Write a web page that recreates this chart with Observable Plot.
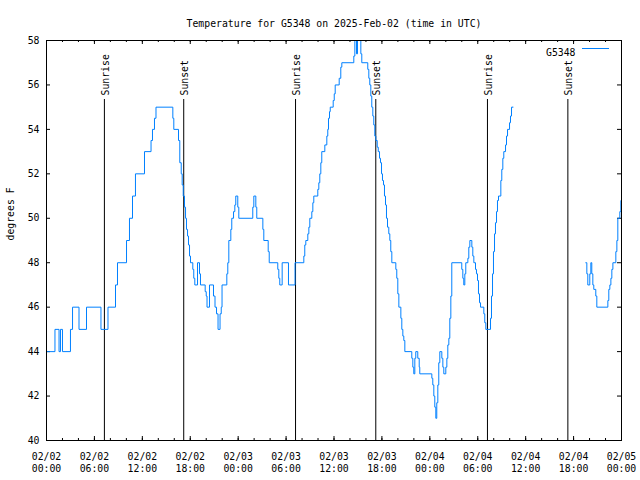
<!DOCTYPE html>
<html><head><meta charset="utf-8">
<script src="https://cdn.jsdelivr.net/npm/d3@7"></script>
<script src="https://cdn.jsdelivr.net/npm/@observablehq/plot@0.6"></script>
<style>body{margin:0;background:#fff} svg{display:block}</style>
</head><body><div id="chart"></div>
<script>
const titleText = "Temperature for G5348 on 2025-Feb-02 (time in UTC)";
const seriesName = "G5348";
const yLabelText = "degrees F";
const startTime = "2025-02-02T00:00:00Z";
const endTime = "2025-02-05T00:00:00Z";
// hours since 2025-02-02 00:00 UTC
const hours = [0,1.06,1.57,1.75,2.0,3.0,3.26,4.07,5.01,6.82,7.70,8.64,8.89,10.02,10.39,10.77,11.14,12.27,13.09,13.27,13.52,13.71,15.82,15.94,16.53,16.69,16.87,16.99,17.12,17.28,17.41,17.53,17.66,17.78,17.91,18.03,18.32,18.44,18.57,18.91,19.16,19.28,19.87,20.00,20.10,20.41,20.91,21.10,21.29,21.48,21.73,21.88,21.98,22.58,22.70,22.83,23.08,23.20,23.42,23.58,23.70,23.95,24.08,25.83,25.96,26.21,26.33,27.09,27.21,27.76,27.89,28.96,29.09,29.21,29.51,30.30,31.12,32.22,32.34,32.47,32.72,32.85,32.97,33.22,33.35,33.47,33.97,34.10,34.22,34.35,34.47,34.85,35.10,35.22,35.31,35.44,35.53,35.90,36.03,36.15,36.65,36.85,36.98,38.48,38.61,38.82,38.94,39.36,39.48,40.23,40.36,40.48,40.61,40.73,40.86,40.98,41.11,41.24,41.41,41.54,41.70,41.82,41.95,42.07,42.20,42.32,42.45,42.57,42.70,42.86,42.99,43.11,43.24,43.74,43.86,43.99,44.12,44.37,44.49,44.62,44.74,44.87,45.74,45.87,45.99,46.12,46.24,46.49,46.67,46.74,48.25,48.37,48.50,48.62,48.75,48.87,49.00,49.12,49.25,49.50,49.63,49.75,50.00,50.13,50.25,50.38,50.50,50.63,50.75,52.00,52.13,52.25,52.38,52.50,52.76,52.88,53.01,53.26,53.38,53.51,53.72,53.84,53.97,54.09,54.22,54.35,54.76,54.88,55.01,55.60,55.72,55.85,55.97,56.10,56.22,56.35,56.47,56.60,56.89,57.01,57.14,57.26,57.48,57.60,57.73,57.98,58.10,58.23,58.44,60,67.53,67.66,67.78,68.03,68.16,68.28,68.41,68.53,68.78,68.91,70.29,70.41,70.54,70.67,70.79,70.92,71.29,71.42,71.54,71.79,71.92,72.0];
const temps = [44,45,44,45,44,45,46,45,46,45,46,47,48,49,50,51,52,53,53.5,54,54.5,55,54.5,54,53.5,52.5,52,51.5,51,50.5,50,49.5,49.2,48.8,48.3,48,47.7,47.3,47,48,47.5,47,46.7,46.5,46,47,46.5,46,45.7,45,45.7,46,47,47.5,48,49,49.5,50,50.3,50.6,51,50.5,50,50.5,51,50.5,50,49.5,49,48.5,48,47.7,47.3,47,48,47,48,48.3,48.8,49,49.3,49.6,50,50.3,50.7,51,51.3,51.6,52,52.5,53,53.3,53.7,54,54.5,54.8,55,55.3,55.6,56,56.3,56.8,57,57.3,58,57.4,58,57.4,57,56.7,56.3,56,55.5,55,54.6,54.2,53.7,53.5,53.2,53,52.7,52.5,52,51.7,51.5,51,50.6,50,49.6,49.3,49,48.5,48,47.7,47.3,46.6,46,45.5,45,44.7,44.5,44,43.7,43.3,43,43.7,44,43.7,43.3,43,42.8,42.5,42,41.5,41,41.7,42.5,43.5,44,43.7,43.3,43,43.3,43.7,44.3,44.6,45.5,46.5,48,47.7,47.3,47,47.5,48,48.2,48.7,49,48.7,48.3,48,47.7,47.5,47.2,46.6,46.2,46,45.7,45.3,45,45.5,46.5,47.5,48.5,49.3,49.8,50.3,50.8,51,51.7,52.2,52.7,53,53.3,53.7,54,54.3,54.6,55,55,null,48,47.5,47,47.5,48,47.5,47,46.8,46.5,46,46.3,46.8,47,47.3,47.7,48,48.5,49,50,50.3,50.8,51];
const sunriseTimes = ["2025-02-02T07:15:00Z","2025-02-03T07:11:00Z","2025-02-04T07:13:00Z"];
const sunsetTimes = ["2025-02-02T17:11:00Z","2025-02-03T17:14:00Z","2025-02-04T17:17:00Z"];
const yTicks = [40,42,44,46,48,50,52,54,56,58];
const yDomain = [40,58];

const t0 = new Date(startTime).getTime();
const data = hours.map((h,i)=>({time:new Date(t0+h*3600000), temp:temps[i]}));
const sunEvents = [
  ...sunriseTimes.map(t=>({time:new Date(t), label:"Sunrise"})),
  ...sunsetTimes.map(t=>({time:new Date(t), label:"Sunset"}))
];
const xStart = new Date(startTime), xEnd = new Date(endTime);
const majorX = d3.utcHour.every(6).range(xStart, new Date(xEnd.getTime()+1));
const minorX = d3.utcHour.every(2).range(xStart, new Date(xEnd.getTime()+1));

const W=640, H=480, mL=46, mR=19, mT=40, mB=40;
const fw = W-mL-mR, fh = H-mT-mB;
const font = "DejaVu Sans Mono, monospace";
const fmt = d3.utcFormat("%m/%d\n%H:%M");

const plot = Plot.plot({
  width:W, height:H,
  marginLeft:mL, marginRight:mR, marginTop:mT, marginBottom:mB,
  style:{fontFamily:font, fontSize:"9.8px", background:"#fff", color:"#000"},
  x:{type:"utc", domain:[xStart,xEnd], label:null},
  y:{domain:yDomain, label:null},
  marks:[
    Plot.axisY(yTicks,{tickSize:0, tickPadding:7, fontSize:9.8}),
    Plot.axisX(majorX,{tickSize:0, tickPadding:10, tickFormat:fmt, lineHeight:1.3, fontSize:9.8}),
    // inward ticks (mirrored)
    Plot.ruleX(majorX,{insetTop:fh-4, stroke:"#000"}),
    Plot.ruleX(majorX,{insetBottom:fh-4, stroke:"#000"}),
    Plot.ruleX(minorX,{insetTop:fh-2, stroke:"#000"}),
    Plot.ruleX(minorX,{insetBottom:fh-2, stroke:"#000"}),
    Plot.ruleY(yTicks,{insetRight:fw-4, stroke:"#000"}),
    Plot.ruleY(yTicks,{insetLeft:fw-4, stroke:"#000"}),
    // sun lines
    Plot.ruleX(sunEvents,{x:"time", insetTop:59, stroke:"#000", strokeWidth:1}),
    Plot.text(sunEvents,{x:"time", text:"label", frameAnchor:"top", dy:55, dx:1, rotate:-90, textAnchor:"start", lineAnchor:"middle", fill:"#000", fontSize:9.8}),
    // data
    Plot.line(data,{x:"time", y:"temp", curve:"step-after", stroke:"#0080ff", strokeWidth:1}),
    Plot.frame({stroke:"#000"}),
    // title, y label, legend
    Plot.text([titleText],{text:d=>d, frameAnchor:"top", dy:-20, fill:"#000", fontSize:9.8}),
    Plot.text([yLabelText],{text:d=>d, frameAnchor:"left", dx:-36, rotate:-90, fill:"#000", fontSize:9.8}),
    Plot.text([seriesName],{text:d=>d, frameAnchor:"top-right", dx:-46, dy:9, textAnchor:"end", fill:"#000", fontSize:9.8})
  ]
});
const svg = d3.select(plot);
svg.append("line").attr("x1",W-mR-39).attr("x2",W-mR-12).attr("y1",mT+8.5).attr("y2",mT+8.5)
  .attr("stroke","#0080ff").attr("stroke-width",1);
document.getElementById("chart").appendChild(plot);
</script>
</body></html>
